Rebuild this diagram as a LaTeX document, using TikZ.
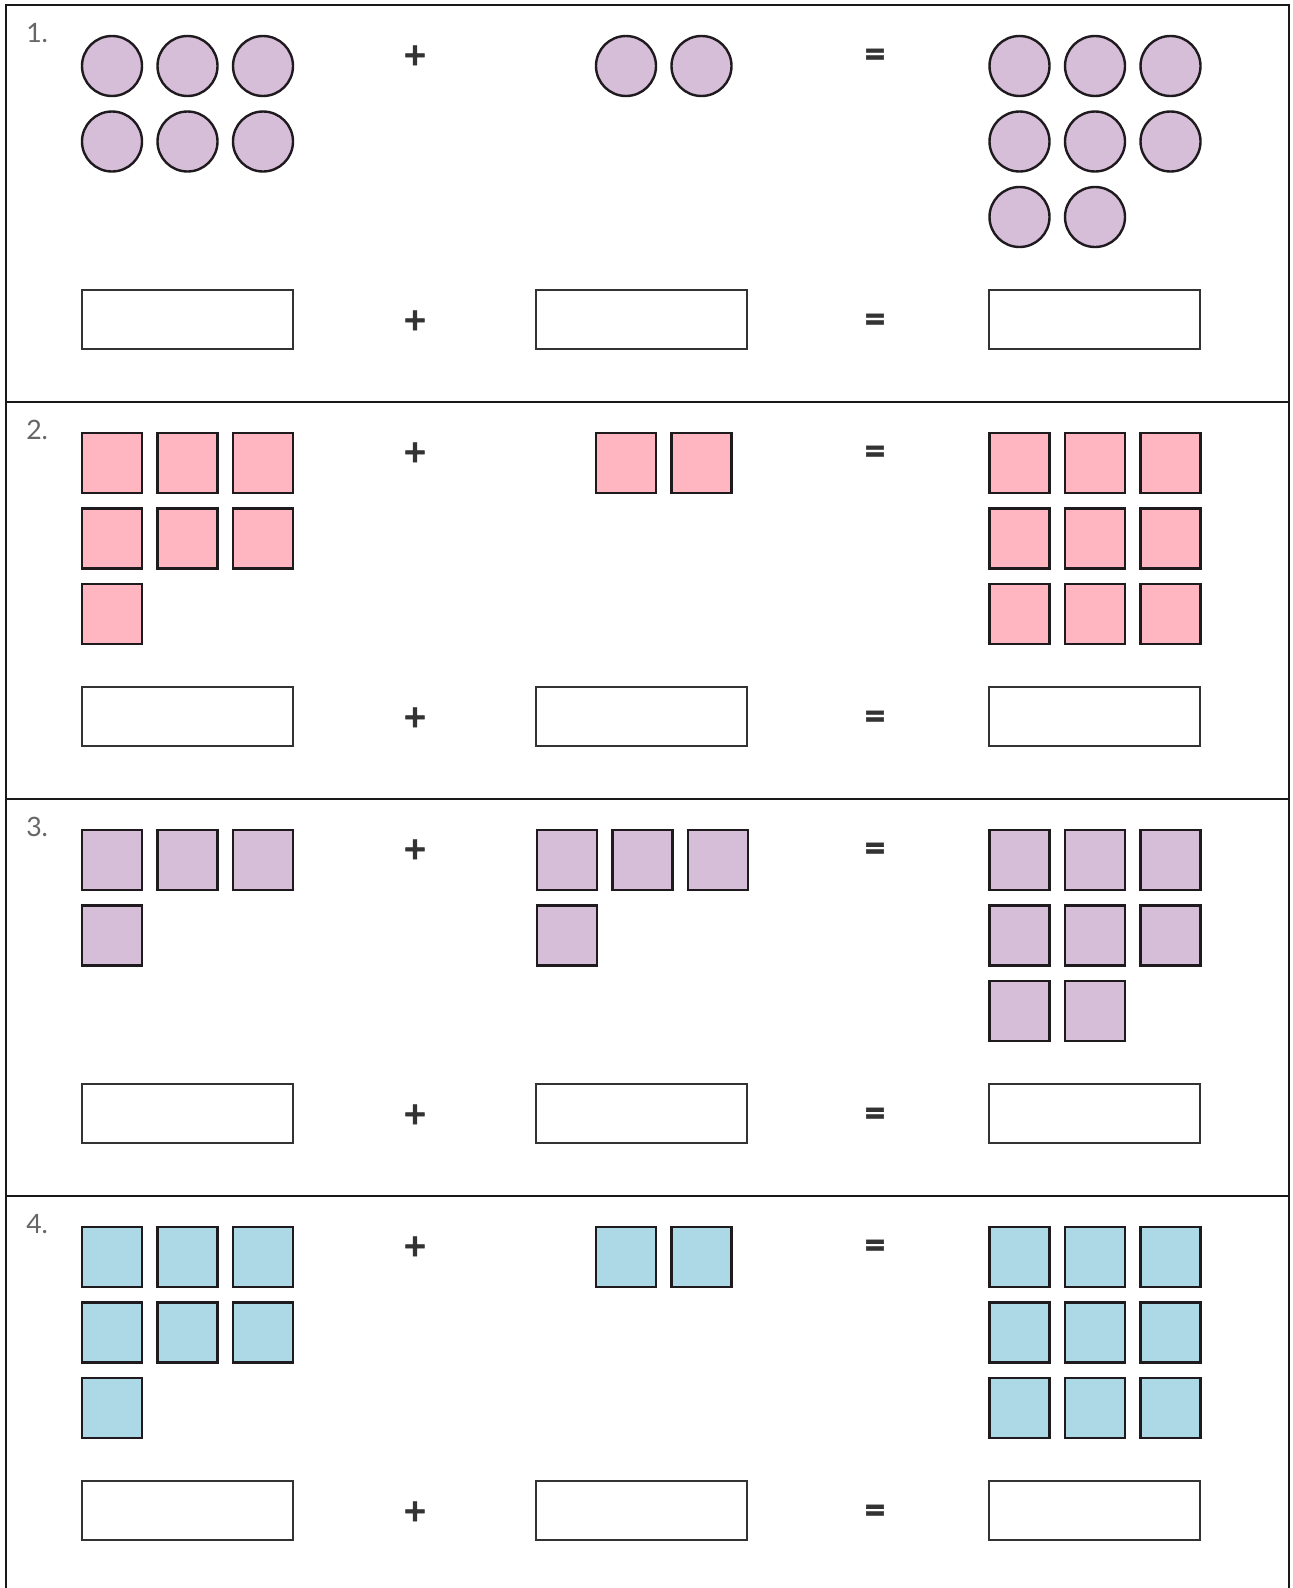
\documentclass[tikz,border=0pt]{standalone}
\usepackage{fontspec}
\setmainfont{Lato}
\newfontfamily\symfont{Lato}[BoldFeatures={FakeBold=1.5}]
\definecolor{lilac}{HTML}{D6BDD8}
\definecolor{rose}{HTML}{FFB6C1}
\definecolor{sky}{HTML}{ADD8E6}
\definecolor{ink}{HTML}{1E1A1E}
\definecolor{symgray}{HTML}{333333}
\newcommand\mkgrp[5]{%
  \foreach \cnt [count=\r from 0] in {#4} {%
    \foreach \c in {1,...,\cnt} {%
      \node[#1] (#5-\r-\c) at ({#3+(\c-1)*75.5}, {66+397*#2+\r*75.5}) {};
    }%
  }%
}
\begin{document}
\begin{tikzpicture}[x=0.75pt,y=-0.75pt,
  frame/.style={line width=1.6pt,draw=black!90},
  circ/.style={circle,draw=ink,line width=1.8pt,fill=lilac,minimum size=45pt,inner sep=0pt},
  sqp/.style={rectangle,draw=ink,line width=1.9pt,fill=rose,minimum size=45pt,inner sep=0pt},
  sql/.style={rectangle,draw=ink,line width=1.9pt,fill=lilac,minimum size=45pt,inner sep=0pt},
  sqb/.style={rectangle,draw=ink,line width=1.9pt,fill=sky,minimum size=45pt,inner sep=0pt},
  ansbox/.style={rectangle,draw=symgray,line width=1.5pt,minimum width=158.25pt,minimum height=44.25pt,inner sep=0pt},
  sym/.style={text=symgray,font=\symfont\bfseries\fontsize{29}{31}\selectfont,inner sep=0pt},
  num/.style={text=black!60,font=\fontsize{20}{24}\selectfont,anchor=north west,inner sep=0pt}]
\useasboundingbox[fill=white] (0,0) rectangle (1292,1588);
% frame
\coordinate (fbl) at (6,1600);
\coordinate (ftl) at (6,5);
\coordinate (ftr) at (1289,5);
\coordinate (fbr) at (1289,1600);
\draw[frame] (fbl) -- (ftl) -- (ftr) -- (fbr);
\foreach \s in {1,2,3} {
  \coordinate (dl\s) at (6,{5+397*\s});
  \coordinate (dr\s) at (1289,{5+397*\s});
  \draw[frame] (dl\s) -- (dr\s);
}
% labels, symbols, answer boxes
\foreach \s [count=\k] in {0,1,2,3} {
  \node[num] (num\k) at (26,{23+397*\s}) {\k.};
  \node[sym] (plusA\k) at (415,{57+397*\s}) {+};
  \node[sym] (eqA\k) at (875,{58+397*\s}) {=};
  \node[ansbox] (ansL\k) at (187.5,{319.5+397*\s}) {};
  \node[ansbox] (ansM\k) at (641.5,{319.5+397*\s}) {};
  \node[ansbox] (ansR\k) at (1094.5,{319.5+397*\s}) {};
  \node[sym] (plusB\k) at (415,{322+397*\s}) {+};
  \node[sym] (eqB\k) at (875,{323+397*\s}) {=};
}
% section 1
\mkgrp{circ}{0}{112}{3,3}{a1}
\mkgrp{circ}{0}{626}{2}{b1}
\mkgrp{circ}{0}{1019.5}{3,3,2}{c1}
% section 2
\mkgrp{sqp}{1}{112}{3,3,1}{a2}
\mkgrp{sqp}{1}{626}{2}{b2}
\mkgrp{sqp}{1}{1019.5}{3,3,3}{c2}
% section 3
\mkgrp{sql}{2}{112}{3,1}{a3}
\mkgrp{sql}{2}{567}{3,1}{b3}
\mkgrp{sql}{2}{1019.5}{3,3,2}{c3}
% section 4
\mkgrp{sqb}{3}{112}{3,3,1}{a4}
\mkgrp{sqb}{3}{626}{2}{b4}
\mkgrp{sqb}{3}{1019.5}{3,3,3}{c4}
\end{tikzpicture}
\end{document}
